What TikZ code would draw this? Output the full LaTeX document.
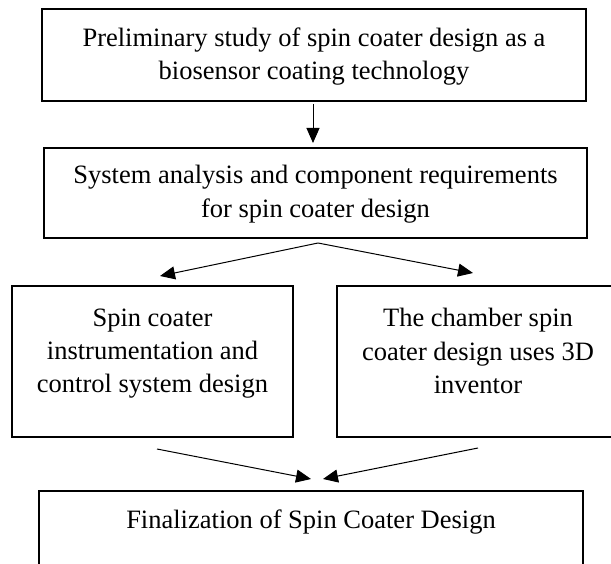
\documentclass[tikz,border=0pt]{standalone}
\usepackage{fontspec}
\setmainfont{Liberation Serif}
\usetikzlibrary{arrows.meta,calc}
\begin{document}
\begin{tikzpicture}[x=1pt,y=-1pt,
  box/.style={draw, line width=2pt, inner sep=0pt, outer sep=0pt},
  txt/.style={inner sep=0pt, outer sep=0pt, align=center, anchor=north,
    font=\fontsize{26.5pt}{33.3pt}\selectfont},
  arr/.style={line width=1pt, -{Triangle[length=15pt,width=13pt]}}
]
\clip (0,0) rectangle (611,564);
\fill[white] (0,0) rectangle (611,564);
% boxes
\node[box, minimum width=544pt, minimum height=92pt] (b1) at (314,55) {};
\node[box, minimum width=543pt, minimum height=90pt] (b2) at (315.5,193) {};
\node[box, minimum width=281pt, minimum height=151pt] (b3) at (152.5,361.5) {};
\node[box, minimum width=282pt, minimum height=151pt] (b4) at (478,361.5) {};
\node[box, minimum width=544pt, minimum height=140pt] (b5) at (311,561) {};
% texts
\node[txt] (t1) at ($(b1.north)+(0,18.6)$) {Preliminary study of spin coater design as a\\biosensor coating technology};
\node[txt] (t2) at ($(b2.north)+(0,17.6)$) {System analysis and component requirements\\for spin coater design};
\node[txt] (t3) at ($(b3.north)+(0,22.6)$) {Spin coater\\instrumentation and\\control system design};
\node[txt] (t4) at ($(b4.north)+(0,22.6)$) {The chamber spin\\coater design uses 3D\\inventor};
\node[txt] (t5) at ($(b5.north)+(0,18.6)$) {Finalization of Spin Coater Design};
% connectors
\coordinate (s1) at (313,104);
\coordinate (e1) at (313,143);
\coordinate (s2) at (318,243);
\coordinate (e3) at (160,276);
\coordinate (e4) at (473,273);
\coordinate (s3) at (157,449);
\coordinate (s4) at (478,448);
\coordinate (e5a) at (311,479);
\coordinate (e5b) at (323,479);
\draw[arr] (s1) -- (e1);
\draw[arr] (s2) -- (e3);
\draw[arr] (s2) -- (e4);
\draw[arr] (s3) -- (e5a);
\draw[arr] (s4) -- (e5b);
\end{tikzpicture}
\end{document}
